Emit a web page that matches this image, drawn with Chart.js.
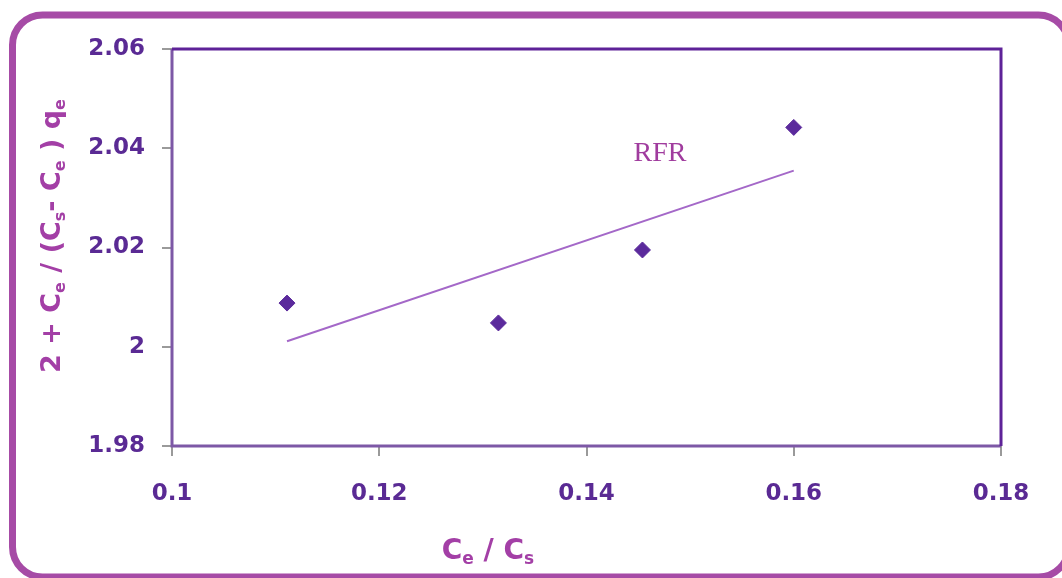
<!DOCTYPE html>
<html>
<head>
<meta charset="utf-8">
<script src="https://cdn.jsdelivr.net/npm/chart.js@4.4.1/dist/chart.umd.min.js"></script>
<style>
  html, body { margin: 0; padding: 0; background: #ffffff; }
  #wrap { width: 1062px; height: 578px; position: relative; }
</style>
</head>
<body>
<div id="wrap"><canvas id="chart" width="1062" height="578"></canvas></div>
<script>
// Measured points: Ce/Cs against 2 + Ce/((Cs - Ce) qe)
const xValues = [0.1111, 0.1315, 0.1454, 0.1600];
const yValues = [2.0088, 2.0048, 2.0195, 2.0442];

// Linear fit drawn between the first and last point
const trendX = [0.1111, 0.1600];
const trendY = [2.0011, 2.0355];

// Axis ticks
const xTicks = [0.1, 0.12, 0.14, 0.16, 0.18];
const xTickLabels = ['0.1', '0.12', '0.14', '0.16', '0.18'];
const yTicks = [1.98, 2.0, 2.02, 2.04, 2.06];
const yTickLabels = ['1.98', '2', '2.02', '2.04', '2.06'];

// Series label placed inside the plot (data coordinates)
const seriesLabel = 'RFR';
const seriesLabelPos = [0.1471, 2.0389];

// Axis titles with subscript runs
const xTitleParts = [['C', false], ['e', true], [' / C', false], ['s', true]];
const yTitleParts = [['2 + C', false], ['e', true], [' / (C', false], ['s', true],
                     ['- C', false], ['e', true], [' ) q', false], ['e', true]];

const SANS = '"DejaVu Sans", "Liberation Sans", Arial, sans-serif';
const TITLE_COLOR = '#a33fa6';
const TICK_COLOR = '#5a2a94';

function drawRich(ctx, parts, cx, baseline, mainSize, subSize) {
  const mainFont = 'bold ' + mainSize + 'px ' + SANS;
  const subFont = 'bold ' + subSize + 'px ' + SANS;
  let total = 0;
  parts.forEach(([t, sub]) => { ctx.font = sub ? subFont : mainFont; total += ctx.measureText(t).width; });
  let x = cx - total / 2;
  ctx.textAlign = 'left';
  ctx.textBaseline = 'alphabetic';
  parts.forEach(([t, sub]) => {
    ctx.font = sub ? subFont : mainFont;
    ctx.fillText(t, x, baseline + (sub ? 5 : 0));
    x += ctx.measureText(t).width;
  });
}

const decorations = {
  id: 'decorations',
  beforeDraw(chart) {
    const ctx = chart.ctx;
    ctx.save();
    // rounded outer frame
    ctx.strokeStyle = '#a64ba6';
    ctx.lineWidth = 7;
    ctx.beginPath();
    ctx.roundRect(12.5, 15, 1056, 562, 30);
    ctx.stroke();
    ctx.restore();
  },
  beforeDatasetsDraw(chart) {
    const { ctx, chartArea: a } = chart;
    ctx.save();
    ctx.lineWidth = 3;
    ctx.strokeStyle = '#7d58a6';
    ctx.beginPath();
    ctx.moveTo(a.left, a.top);
    ctx.lineTo(a.left, a.bottom);
    ctx.lineTo(a.right, a.bottom);
    ctx.stroke();
    ctx.strokeStyle = '#5e2298';
    ctx.beginPath();
    ctx.moveTo(a.left, a.top);
    ctx.lineTo(a.right, a.top);
    ctx.lineTo(a.right, a.bottom);
    ctx.stroke();
    ctx.restore();
  },
  afterDraw(chart) {
    const ctx = chart.ctx;
    const xs = chart.scales.x, ys = chart.scales.y;
    ctx.save();
    ctx.fillStyle = TITLE_COLOR;
    // x axis title
    drawRich(ctx, xTitleParts, 488, 559, 28, 17);
    // y axis title, rotated
    ctx.translate(60, 236);
    ctx.rotate(-Math.PI / 2);
    drawRich(ctx, yTitleParts, 0, 0, 27, 16);
    ctx.restore();

    // series label
    ctx.save();
    ctx.fillStyle = '#a03c9e';
    ctx.font = '28px "Liberation Serif", "Times New Roman", serif';
    ctx.textAlign = 'center';
    ctx.textBaseline = 'middle';
    ctx.fillText(seriesLabel, xs.getPixelForValue(seriesLabelPos[0]), ys.getPixelForValue(seriesLabelPos[1]));
    ctx.restore();
  }
};

new Chart(document.getElementById('chart'), {
  type: 'scatter',
  data: {
    datasets: [
      {
        label: 'Fit',
        type: 'line',
        data: trendX.map((x, i) => ({ x, y: trendY[i] })),
        borderColor: '#a468c8',
        borderWidth: 2,
        pointRadius: 0,
        fill: false,
        order: 2
      },
      {
        label: seriesLabel,
        data: xValues.map((x, i) => ({ x, y: yValues[i] })),
        pointStyle: 'rectRot',
        pointRadius: 8,
        pointHoverRadius: 8,
        backgroundColor: '#5b2a9c',
        borderColor: '#5b2a9c',
        borderWidth: 1,
        order: 1
      }
    ]
  },
  options: {
    responsive: false,
    animation: false,
    layout: { padding: { left: 0, top: 49, right: 61, bottom: 0 } },
    plugins: { legend: { display: false }, tooltip: { enabled: false } },
    scales: {
      x: {
        type: 'linear',
        min: 0.1, max: 0.18,
        afterBuildTicks(scale) { scale.ticks = xTicks.map(v => ({ value: v })); },
        afterFit(scale) { scale.height = 132; },
        grid: { drawOnChartArea: false, drawTicks: true, tickLength: 10, color: '#9a9a9a', lineWidth: 2 },
        border: { display: false },
        ticks: {
          padding: 24,
          color: TICK_COLOR,
          font: { family: SANS, size: 23, weight: 'bold' },
          maxRotation: 0,
          callback: (v, i) => xTickLabels[i]
        }
      },
      y: {
        type: 'linear',
        min: 1.98, max: 2.06,
        afterBuildTicks(scale) { scale.ticks = yTicks.map(v => ({ value: v })); },
        afterFit(scale) { scale.width = 172; },
        grid: { drawOnChartArea: false, drawTicks: true, tickLength: 10, color: '#9a9a9a', lineWidth: 2 },
        border: { display: false },
        ticks: {
          padding: 17,
          color: TICK_COLOR,
          font: { family: SANS, size: 23, weight: 'bold' },
          callback: (v, i) => yTickLabels[i]
        }
      }
    }
  },
  plugins: [decorations]
});
</script>
</body>
</html>
